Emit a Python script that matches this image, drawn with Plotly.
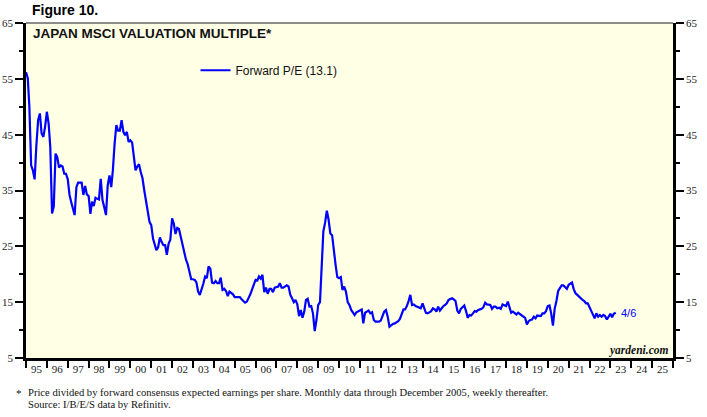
import pandas as pd
import plotly.graph_objects as go

# Monthly forward P/E readings (Jan..Dec of each year)
pe_1995 = [56.2, 55.1, 50.0, 39.5, 38.6, 37.0, 43.0, 47.6, 48.8, 45.2, 44.6, 46.4]
pe_1996 = [49.1, 47.0, 42.8, 30.9, 32.1, 41.6, 41.0, 39.1, 39.5, 39.3, 38.0, 38.0]
pe_1997 = [37.0, 34.2, 33.0, 32.0, 30.6, 35.6, 36.4, 36.4, 36.4, 34.2, 35.8, 34.3]
pe_1998 = [34.0, 30.8, 33.0, 32.2, 33.7, 33.5, 33.4, 37.1, 33.3, 32.0, 30.6, 35.9]
pe_1999 = [37.7, 35.6, 38.6, 43.4, 46.7, 45.7, 45.7, 47.6, 45.5, 44.9, 45.5, 43.7]
pe_2000 = [44.0, 43.6, 41.0, 38.6, 39.3, 39.7, 38.3, 37.2, 35.0, 33.3, 31.3, 29.4]
pe_2001 = [28.8, 26.4, 25.4, 24.3, 24.8, 26.6, 25.8, 25.2, 25.2, 23.5, 25.5, 26.2]
pe_2002 = [30.0, 29.0, 27.2, 28.3, 28.1, 26.7, 25.2, 23.7, 22.6, 21.8, 20.6, 19.1]
pe_2003 = [19.1, 19.0, 18.6, 16.9, 16.3, 17.2, 18.3, 19.6, 19.3, 21.4, 21.0, 18.5]
pe_2004 = [18.4, 18.8, 18.4, 18.4, 19.4, 17.2, 17.4, 17.0, 16.1, 16.9, 16.7, 16.4]
pe_2005 = [15.9, 15.9, 16.0, 15.9, 15.5, 15.1, 14.9, 15.1, 15.7, 16.4, 17.3, 18.0]
pe_2006 = [19.0, 18.9, 19.6, 19.2, 19.9, 16.8, 17.6, 16.5, 17.4, 17.4, 16.8, 17.6]
pe_2007 = [17.7, 17.8, 18.4, 17.6, 17.6, 17.8, 18.0, 17.8, 16.3, 15.7, 15.0, 15.4]
pe_2008 = [14.6, 12.5, 13.6, 12.2, 13.3, 15.4, 15.6, 14.2, 14.3, 13.0, 9.8, 11.8]
pe_2009 = [14.5, 15.0, 21.5, 27.7, 29.2, 31.4, 29.8, 27.3, 27.0, 23.8, 21.7, 19.5]
pe_2010 = [19.3, 19.5, 17.2, 17.8, 16.9, 15.0, 14.5, 13.6, 13.1, 12.7, 13.2, 13.4]
pe_2011 = [13.6, 13.7, 11.2, 13.1, 13.3, 13.5, 13.0, 13.2, 11.8, 11.5, 11.5, 11.5]
pe_2012 = [11.7, 12.4, 13.3, 13.6, 12.4, 10.6, 10.9, 11.1, 11.2, 11.4, 11.6, 12.0]
pe_2013 = [13.0, 13.7, 13.7, 14.3, 15.2, 16.3, 14.5, 14.6, 14.3, 14.2, 14.1, 13.9]
pe_2014 = [14.8, 13.9, 13.1, 13.0, 13.2, 13.4, 13.9, 13.7, 13.3, 14.2, 13.5, 13.9]
pe_2015 = [14.3, 14.5, 14.8, 15.4, 15.6, 15.7, 15.5, 15.2, 13.5, 13.0, 13.8, 14.2]
pe_2016 = [14.4, 13.4, 12.2, 12.7, 12.6, 13.0, 13.4, 13.3, 13.6, 13.7, 13.8, 14.1]
pe_2017 = [14.9, 14.6, 14.5, 14.5, 13.8, 14.2, 14.2, 13.9, 14.0, 13.8, 14.6, 14.5]
pe_2018 = [14.3, 15.1, 13.9, 13.1, 13.3, 13.0, 12.8, 13.1, 12.9, 12.6, 12.4, 12.2]
pe_2019 = [11.0, 11.6, 11.8, 11.9, 12.4, 12.1, 12.6, 12.5, 12.5, 13.0, 13.0, 13.4]
pe_2020 = [14.3, 14.4, 13.0, 10.8, 13.8, 15.2, 17.0, 17.5, 18.0, 18.0, 17.6, 17.4]
pe_2021 = [18.1, 18.3, 18.5, 17.3, 16.6, 16.3, 16.0, 15.6, 15.4, 15.2, 14.8, 14.8]
pe_2022 = [14.1, 13.7, 13.0, 12.1, 13.0, 12.4, 12.7, 12.4, 12.7, 12.5, 11.9, 12.5]
pe_2023 = [12.9, 12.3, 12.9]
last_date = "2023-04-06"
last_value = 13.1

y_ticks = [5, 15, 25, 35, 45, 55, 65]
y_minor = [10, 20, 30, 40, 50, 60]

monthly = (pe_1995 + pe_1996 + pe_1997 + pe_1998 + pe_1999 + pe_2000 + pe_2001 +
           pe_2002 + pe_2003 + pe_2004 + pe_2005 + pe_2006 + pe_2007 + pe_2008 +
           pe_2009 + pe_2010 + pe_2011 + pe_2012 + pe_2013 + pe_2014 + pe_2015 +
           pe_2016 + pe_2017 + pe_2018 + pe_2019 + pe_2020 + pe_2021 + pe_2022 + pe_2023)
dates = list(pd.date_range("1995-01-01", periods=len(monthly), freq="MS")) + [pd.Timestamp(last_date)]
values = monthly + [last_value]

fig = go.Figure()
fig.add_trace(go.Scatter(x=dates, y=values, mode="lines", name="Forward P/E (13.1)",
                         line=dict(color="#0000FF", width=2.2), hoverinfo="x+y"))
fig.add_trace(go.Scatter(x=[dates[0]], y=[values[0]], yaxis="y2", mode="markers",
                         marker=dict(opacity=0), showlegend=False, hoverinfo="skip"))

serif = "Liberation Serif, Times New Roman, serif"
sans = "Liberation Sans, Arial, sans-serif"

yax = dict(range=[5, 65], tickvals=y_ticks, ticks="outside", ticklen=8, tickwidth=1.5,
           tickcolor="black", showline=True, linewidth=2.5, linecolor="black",
           showgrid=False, zeroline=False, automargin=False,
           tickfont=dict(family=serif, size=11, color="#222"),
           minor=dict(tickvals=y_minor, ticks="outside", ticklen=4, tickwidth=1.5, tickcolor="black"))

fig.update_layout(
    width=707, height=417,
    margin=dict(l=26, r=34, t=23, b=59),
    paper_bgcolor="white", plot_bgcolor="#FFFFE6",
    showlegend=True,
    legend=dict(x=0.262, y=0.859, xanchor="left", yanchor="middle",
                bgcolor="rgba(0,0,0,0)", font=dict(family=sans, size=12, color="#111")),
    xaxis=dict(type="date", range=["1995-01-01", "2026-01-01"], tick0="1995-01-01",
               dtick="M12", tickformat="%y", ticklabelmode="period", ticks="outside",
               ticklen=7, tickwidth=2, tickcolor="black", showline=True, linewidth=3,
               linecolor="black", showgrid=False, zeroline=False, automargin=False,
               ticklabelstandoff=-8,
               tickfont=dict(family=serif, size=11, color="#222")),
    yaxis=yax,
    yaxis2=dict(yax, overlaying="y", side="right"),
    shapes=[dict(type="line", xref="paper", yref="paper", x0=0, x1=1, y0=1, y1=1,
                 line=dict(color="#666", width=1.5))],
    annotations=[
        dict(text="<b>Figure 10.</b>", xref="paper", yref="paper", x=0.006, y=1.038,
             xanchor="left", yanchor="middle", showarrow=False,
             font=dict(family=sans, size=14, color="black")),
        dict(text="<b>JAPAN MSCI VALUATION MULTIPLE*</b>", xref="paper", yref="paper",
             x=0.008, y=0.970, xanchor="left", yanchor="middle", showarrow=False,
             font=dict(family=sans, size=13.5, color="#111")),
        dict(text="4/6", x=last_date, y=last_value, xref="x", yref="y", xanchor="left",
             yanchor="middle", xshift=3, showarrow=False,
             font=dict(family=sans, size=11, color="#0000FF")),
        dict(text="<b><i>yardeni.com</i></b>", xref="paper", yref="paper", x=0.997, y=0.022,
             xanchor="right", yanchor="middle", showarrow=False,
             font=dict(family=serif, size=11.5, color="#111")),
        dict(text="*", xref="paper", yref="paper", x=-0.018, y=-0.104, xanchor="left",
             yanchor="middle", showarrow=False, font=dict(family=serif, size=11, color="#111")),
        dict(text="Price divided by forward consensus expected earnings per share. Monthly data through December 2005, weekly thereafter.",
             xref="paper", yref="paper", x=0.0, y=-0.104, xanchor="left", yanchor="middle",
             showarrow=False, font=dict(family=serif, size=10.6, color="#111")),
        dict(text="Source: I/B/E/S data by Refinitiv.", xref="paper", yref="paper", x=0.0,
             y=-0.138, xanchor="left", yanchor="middle", showarrow=False,
             font=dict(family=serif, size=10.6, color="#111")),
    ],
)

fig.write_html("out.html", config={"displayModeBar": False},
               post_script="document.body.style.margin='0px';")
